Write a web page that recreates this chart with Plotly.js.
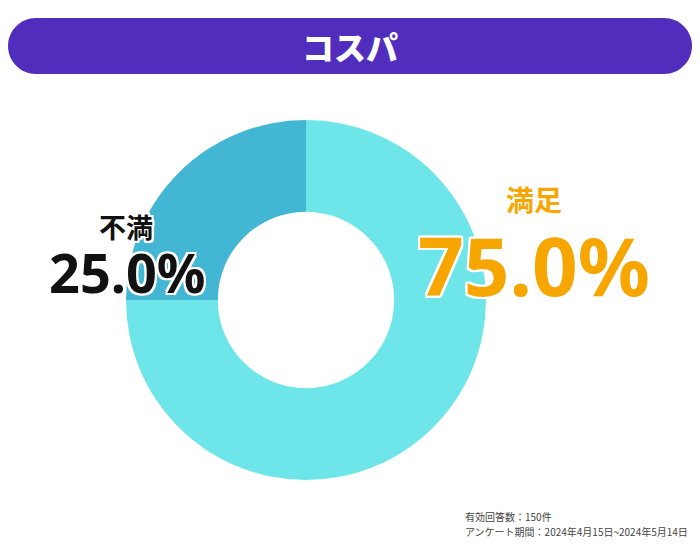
<!DOCTYPE html>
<html>
<head>
<meta charset="utf-8">
<script src="https://cdn.plot.ly/plotly-3.0.1.min.js"></script>
<style>
  html, body { margin: 0; padding: 0; background: #fff; }
  #chart { width: 700px; height: 550px; }
</style>
</head>
<body>
<div id="chart"></div>
<script>
// データ
const labels = ["満足", "不満"];
const values = [75.0, 25.0];
const colors = ["#6ee5e9", "#42b6d3"];
const chartTitle = "コスパ";
const notes = ["有効回答数：150件", "アンケート期間：2024年4月15日~2024年5月14日"];

const W = 700, H = 550;
const fontJP = "Noto Sans CJK JP, Noto Sans, sans-serif";
const fontNum = "Noto Sans, Noto Sans CJK JP, sans-serif";
const outline = "2px 2px 0 #fff, -2px -2px 0 #fff, 2px -2px 0 #fff, -2px 2px 0 #fff, 0 2px 0 #fff, 0 -2px 0 #fff, 2px 0 0 #fff, -2px 0 0 #fff";

// 円の位置（ピクセル）
const cx = 306, cy = 300, r = 180;

const pie = {
    type: "pie",
    labels: labels,
    values: values,
    sort: false,
    direction: "clockwise",
    rotation: 0,
    hole: 0.49,
    marker: { colors: colors, line: { width: 0 } },
    textinfo: "none",
    hoverinfo: "label+percent",
    showlegend: false,
    domain: {
        x: [(cx - r) / W, (cx + r) / W],
        y: [(H - cy - r) / H, (H - cy + r) / H]
    }
};

// 図形用のダミー軸
const dummy = { type: "scatter", x: [], y: [], showlegend: false, hoverinfo: "skip" };

// タイトル帯（角丸）
const bx0 = 8, bx1 = 692, by0 = 18, by1 = 74, br = 28;
const bannerPath = `M ${bx0 + br} ${by0} L ${bx1 - br} ${by0} ` +
    `C ${bx1 - br + 15.5} ${by0} ${bx1} ${by0 + 12.5} ${bx1} ${by0 + br} ` +
    `C ${bx1} ${by1 - 12.5} ${bx1 - br + 15.5} ${by1} ${bx1 - br} ${by1} ` +
    `L ${bx0 + br} ${by1} ` +
    `C ${bx0 + 12.5} ${by1} ${bx0} ${by1 - 12.5} ${bx0} ${by1 - br} ` +
    `C ${bx0} ${by0 + 12.5} ${bx0 + 12.5} ${by0} ${bx0 + br} ${by0} Z`;

function label(text, x, y, size, color, family) {
    return {
        text: text, x: x, y: y, xref: "x", yref: "y",
        showarrow: false, xanchor: "center", yanchor: "middle",
        font: { family: family || fontJP, size: size, color: color, weight: 700, shadow: outline }
    };
}

const layout = {
    width: W, height: H,
    margin: { l: 0, r: 0, t: 0, b: 0 },
    paper_bgcolor: "#fff",
    plot_bgcolor: "rgba(0,0,0,0)",
    xaxis: { range: [0, W], visible: false, fixedrange: true },
    yaxis: { range: [H, 0], visible: false, fixedrange: true },
    shapes: [{
        type: "path", xref: "x", yref: "y", path: bannerPath,
        fillcolor: "#512dbd", line: { width: 0 }, layer: "below"
    }],
    annotations: [
        {
            text: chartTitle, x: 350, y: 46, xref: "x", yref: "y", showarrow: false,
            font: { family: fontJP, size: 32, color: "#fff", weight: 900 }
        },
        label(labels[0], 534, 199, 28, "#f7a600"),
        label(values[0].toFixed(1) + "%", 534, 264, 80, "#f7a600", fontNum),
        label(labels[1], 126, 226, 27, "#111"),
        label(values[1].toFixed(1) + "%", 127, 272, 54, "#111", fontNum),
        {
            text: notes[0], x: 463, y: 516, xref: "x", yref: "y", showarrow: false,
            xanchor: "left", font: { family: fontJP, size: 10, color: "#444" }
        },
        {
            text: notes[1], x: 463, y: 531, xref: "x", yref: "y", showarrow: false,
            xanchor: "left", font: { family: fontJP, size: 10, color: "#444" }
        }
    ]
};

Plotly.newPlot("chart", [dummy, pie], layout, { displayModeBar: false, staticPlot: true });
</script>
</body>
</html>
